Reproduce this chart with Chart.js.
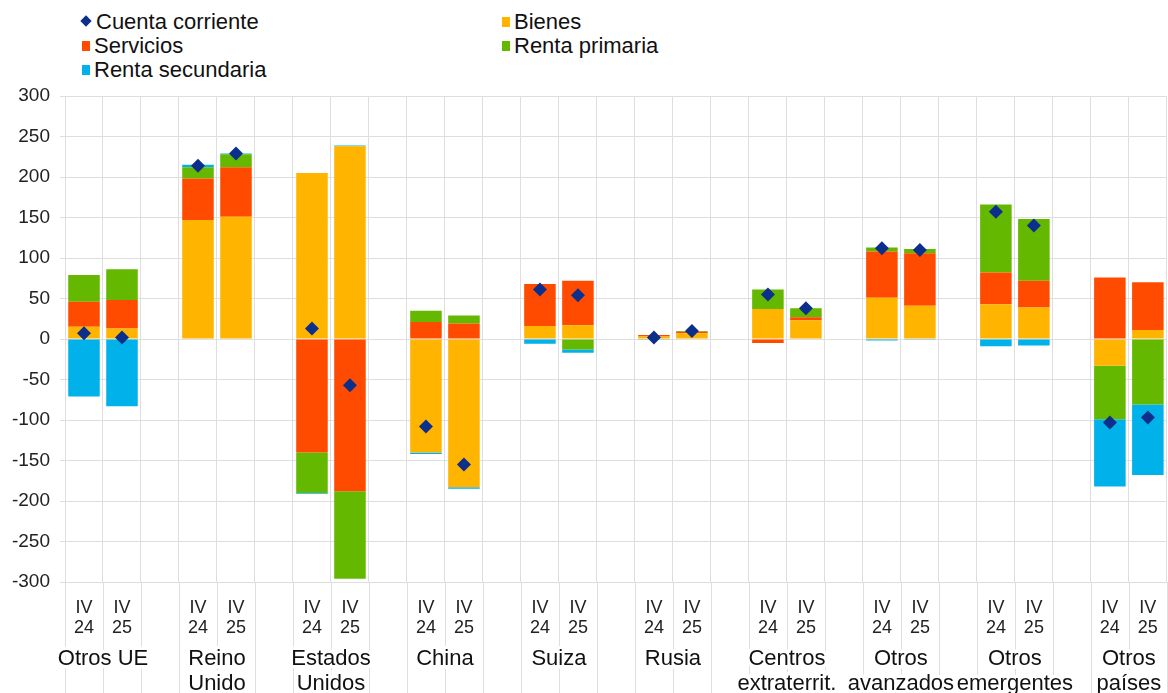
<!DOCTYPE html>
<html>
<head>
<meta charset="utf-8">
<script src="https://cdn.jsdelivr.net/npm/chart.js@4.4.1/dist/chart.umd.min.js"></script>
<style>
html,body{margin:0;padding:0;background:#fff;overflow:hidden;width:1168px;height:693px;}
#wrap{position:absolute;left:0;top:0;width:1174px;height:693px;}
#legend{position:absolute;left:0;top:0;width:1168px;height:90px;}
.lg{position:absolute;font-family:"Liberation Sans",Arial,sans-serif;font-size:22px;line-height:24px;color:#111;white-space:nowrap;}
.mk{position:absolute;top:7px;width:8px;height:10px;}
.dm{position:absolute;top:7px;width:8px;height:8px;transform:rotate(45deg);}
</style>
</head>
<body>
<div id="legend"></div>
<div id="wrap"><canvas id="c"></canvas></div>
<script>
// ---- data ----
const groupNames = [["Otros UE"],["Reino","Unido"],["Estados","Unidos"],["China"],["Suiza"],["Rusia"],["Centros","extraterrit."],["Otros","avanzados"],["Otros","emergentes"],["Otros","países"]];
const periodLabels = [["IV","24"],["IV","25"]];
const seriesNames = ["Cuenta corriente","Bienes","Servicios","Renta primaria","Renta secundaria"];
// two values per group: IV 24, IV 25
const cuentaCorriente = [7,2, 214,229, 13,-57, -108,-155, 61,54, 2,10, 55,38, 112,110, 157,140, -103,-97];
const bienes          = [15,13, 147,151, 205,238, -140,-183, 16,17, 3,7, 37,23, 51,41, 43,39, -33,11];
const servicios       = [31,35, 51,61, -140,-188, 21,19, 52,55, 2,2, -5,4, 57,65, 39,33, 76,59];
const rentaPrimaria   = [33,38, 14,16, -50,-108, 14,10, 0,-13, -1,1, 24,11, 5,5, 84,76, -66,-81];
const rentaSecundaria = [-71,-83, 3,1, -1,1, -2,-2, -6,-4, 0,0, 0,0, -2,-1, -9,-8, -83,-87];
const yTicks = {min:-300, max:300, step:50};

// ---- styles ----
const colors = {cc:'#0B2F8A', bienes:'#FFB400', servicios:'#FF4B00', rp:'#65B800', rs:'#00B1EA'};
const FONT = '"Liberation Sans", Arial, sans-serif';

function spread(vals){
  const out=[];
  for(let g=0; g<groupNames.length; g++){
    out.push(vals[2*g], vals[2*g+1]);
    if(g<groupNames.length-1) out.push(null);
  }
  return out;
}
const labels=[], groupLabels=[];
for(let g=0; g<groupNames.length; g++){
  labels.push(periodLabels[0], periodLabels[1]);
  groupLabels.push(groupNames[g], "");
  if(g<groupNames.length-1){ labels.push(""); groupLabels.push(""); }
}

// legend (HTML)
const legendLayout = [
  {name:seriesNames[0], color:colors.cc, kind:'diamond', x:80, y:10},
  {name:seriesNames[1], color:colors.bienes, kind:'square', x:501, y:10},
  {name:seriesNames[2], color:colors.servicios, kind:'square', x:81, y:34},
  {name:seriesNames[3], color:colors.rp, kind:'square', x:501, y:34},
  {name:seriesNames[4], color:colors.rs, kind:'square', x:81, y:58}
];
const lg=document.getElementById('legend');
legendLayout.forEach(it=>{
  const d=document.createElement('div');
  d.className='lg';
  d.style.left=it.x+'px'; d.style.top=it.y+'px';
  d.style.paddingLeft=(it.kind==='diamond'?16:13)+'px';
  const m=document.createElement('span');
  m.className = it.kind==='diamond'?'dm':'mk';
  m.style.left = it.kind==='diamond'?'2px':'1px';
  m.style.background=it.color;
  d.appendChild(m);
  d.appendChild(document.createTextNode(it.name));
  lg.appendChild(d);
});

const GRID='#dedede';
const extendLines = {
  id:'extendLines',
  beforeDraw(chart){
    const s=chart.scales.x, c=chart.ctx;
    const w=s.getPixelForValue(1)-s.getPixelForValue(0);
    c.save(); c.strokeStyle=GRID; c.lineWidth=1;
    for(let i=0;i<=labels.length;i++){
      const px=Math.round(s.getPixelForValue(0)+(i-0.5)*w)+0.5;
      c.beginPath(); c.moveTo(px, chart.chartArea.bottom); c.lineTo(px, chart.height); c.stroke();
    }
    c.restore();
  }
};

new Chart(document.getElementById('c'), {
  type:'bar',
  data:{
    labels: labels,
    datasets:[
      {type:'line', label:seriesNames[0], data:spread(cuentaCorriente), xAxisID:'x', showLine:false,
       pointStyle:'rectRot', pointRadius:7, pointBackgroundColor:colors.cc, pointBorderColor:colors.cc, pointBorderWidth:0, order:0},
      {label:seriesNames[1], data:spread(bienes), xAxisID:'x', backgroundColor:colors.bienes, order:1},
      {label:seriesNames[2], data:spread(servicios), xAxisID:'x', backgroundColor:colors.servicios, order:1},
      {label:seriesNames[3], data:spread(rentaPrimaria), xAxisID:'x', backgroundColor:colors.rp, order:1},
      {label:seriesNames[4], data:spread(rentaSecundaria), xAxisID:'x', backgroundColor:colors.rs, order:1}
    ]
  },
  options:{
    animation:false, responsive:true, maintainAspectRatio:false,
    layout:{padding:{top:96,left:0,right:0,bottom:0}},
    plugins:{legend:{display:false}, tooltip:{enabled:false}},
    datasets:{bar:{barPercentage:0.83, categoryPercentage:1}},
    scales:{
      x:{stacked:true,
         grid:{color:GRID, offset:true, drawTicks:false},
         border:{display:false},
         ticks:{autoSkip:false, maxRotation:0, padding:16, color:'#222',
                textStrokeColor:'#fff', textStrokeWidth:5,
                font:{family:FONT, size:18, lineHeight:1.1}},
         afterFit(s){ s.height=64; }},
      x2:{type:'category', labels:groupLabels, position:'bottom', offset:true,
         grid:{display:false, drawTicks:false, offset:true}, border:{display:false},
         ticks:{autoSkip:false, maxRotation:0, padding:1, color:'#111', labelOffset:19,
                textStrokeColor:'#fff', textStrokeWidth:7,
                font:{family:FONT, size:22, lineHeight:1.12}},
         afterFit(s){ s.height=47; }},
      y:{stacked:true, min:yTicks.min, max:yTicks.max,
         ticks:{stepSize:yTicks.step, padding:10, color:'#222', font:{family:FONT, size:19}},
         grid:{color:GRID, tickLength:5},
         border:{display:false},
         afterFit(s){ s.width=65; }}
    }
  },
  plugins:[extendLines]
});
</script>
</body>
</html>
